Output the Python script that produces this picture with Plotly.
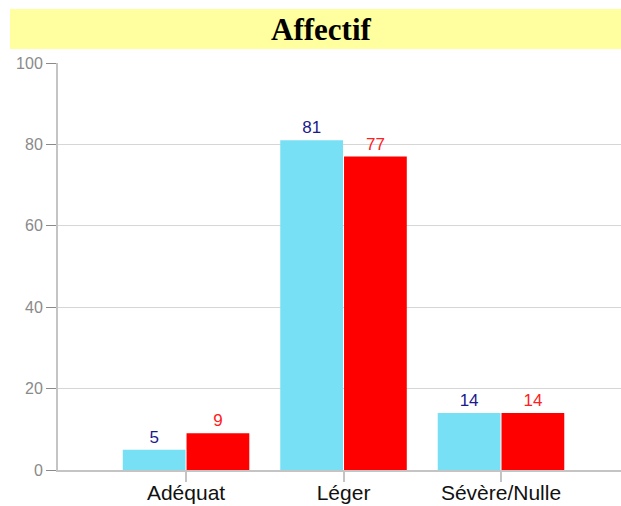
import plotly.graph_objects as go

categories = ["Adéquat", "Léger", "Sévère/Nulle"]
series_a = [5, 81, 14]
series_b = [9, 77, 14]
y_ticks = [0, 20, 40, 60, 80, 100]
title_text = "Affectif"

W, H = 621, 506
L, R, T, B = 58, 0, 63, 36
pw, ph = W - L - R, H - T - B

fig = go.Figure()
fig.add_trace(go.Bar(
    x=categories, y=series_a, name="A",
    marker=dict(color="#78E0F5", line=dict(width=0)),
    text=[str(v) for v in series_a], textposition="outside",
    textfont=dict(family="Arial, Liberation Sans", size=17, color="#1A1A8C"),
    cliponaxis=False,
))
fig.add_trace(go.Bar(
    x=categories, y=series_b, name="B",
    marker=dict(color="#FF0000", line=dict(width=0)),
    text=[str(v) for v in series_b], textposition="outside",
    textfont=dict(family="Arial, Liberation Sans", size=17, color="#FF2020"),
    cliponaxis=False,
))

fig.update_layout(
    width=W, height=H,
    margin=dict(l=L, r=R, t=T, b=B, pad=0),
    paper_bgcolor="white", plot_bgcolor="white",
    showlegend=False,
    barmode="group", bargap=0.19, bargroupgap=0.016,
    xaxis=dict(
        type="category", range=[-0.813, 2.762], automargin=False,
        showline=True, linecolor="#C4C4C4", linewidth=2,
        ticks="outside", ticklen=10, tickcolor="#C4C4C4", tickwidth=2,
        ticklabelstandoff=-7,
        tickfont=dict(family="Arial, Liberation Sans", size=21, color="#111111"),
        showgrid=False, zeroline=False,
    ),
    yaxis=dict(
        range=[0, 100], tickvals=y_ticks, automargin=False,
        showline=True, linecolor="#C4C4C4", linewidth=2,
        ticks="outside", ticklen=10, tickcolor="#8A8A8A", tickwidth=1,
        tickfont=dict(family="Arial, Liberation Sans", size=16, color="#8A8A8A"),
        showgrid=True, gridcolor="#D6D6D6", gridwidth=1,
        zeroline=False,
    ),
)

# yellow title band
fig.add_shape(
    type="rect", xref="paper", yref="paper",
    x0=(10 - L) / pw, x1=1.0,
    y0=(H - B - 49) / ph, y1=(H - B - 9) / ph,
    fillcolor="#FFFFA0", line=dict(width=0), layer="below",
)
fig.add_annotation(
    text="<b>" + title_text + "</b>", xref="paper", yref="paper",
    x=(321 - L) / pw, y=(H - B - 29) / ph,
    xanchor="center", yanchor="middle", showarrow=False,
    font=dict(family="Liberation Serif, Times New Roman", size=31, color="black"),
)

fig.write_html(
    "out.html",
    config={"displayModeBar": False},
    post_script="document.body.style.margin='0';document.body.style.overflow='hidden';",
)
